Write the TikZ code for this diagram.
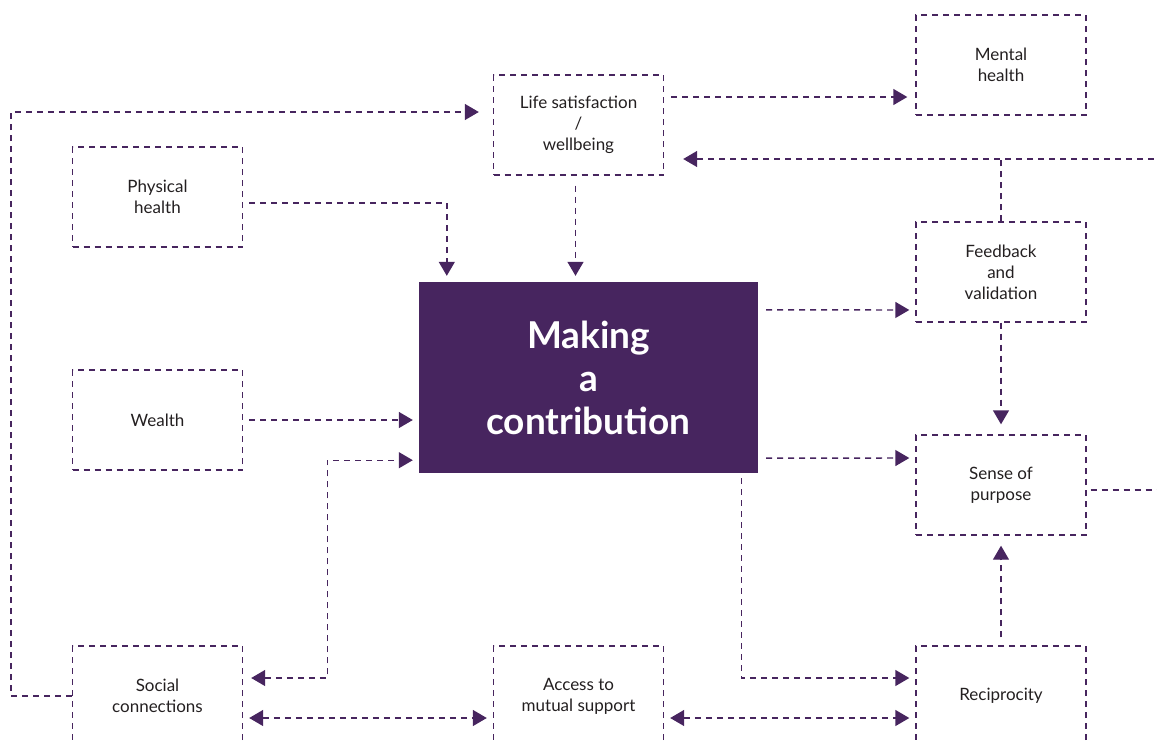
\documentclass[tikz,border=0pt]{standalone}
\usepackage{fontspec}
\setmainfont{Lato}
\usetikzlibrary{arrows.meta}
\definecolor{plum}{RGB}{71,37,95}
\definecolor{ink}{RGB}{35,31,32}

\begin{document}
\begin{tikzpicture}[x=1pt, y=-1pt, font=\fontsize{17}{21}\selectfont,
	box/.style={draw=plum, line width=1.4pt, dash pattern=on 6pt off 5pt,
		minimum width=170pt, minimum height=100pt, align=center, text=ink, inner sep=0pt},
	core/.style={fill=plum, minimum width=339pt, minimum height=191pt, align=center,
		text=white, inner sep=0pt, font=\bfseries\fontsize{37}{43}\selectfont},
	link/.style={draw=plum, line width=1.4pt, dash pattern=on 6pt off 5pt},
	tip/.style={-{Triangle[length=14pt,width=16pt]}},
	twotip/.style={{Triangle[length=14pt,width=16pt]}-{Triangle[length=14pt,width=16pt]}}]
	\useasboundingbox (0,0) rectangle (1157,742);
	\clip (0,0) rectangle (1157,742);
	%boxes
	\node[box] (mental) at (1001,65) {Mental\\health};
	\node[box] (life) at (578.5,125) {Life satisfaction\\/\\wellbeing};
	\node[box] (phys) at (157.5,197) {Physical\\health};
	\node[box] (feed) at (1001,272) {Feedback\\and\\validation};
	\node[core] (main) at (588.5,377.5) {Making\\a\\contribution};
	\node[box] (wealth) at (157.5,420) {Wealth};
	\node[box] (sense) at (1001,485) {Sense of\\purpose};
	\node[box] (social) at (157.5,696) {Social\\connections};
	\node[box] (access) at (578.5,696) {Access to\\mutual support};
	\node[box] (recip) at (1001,696) {Reciprocity};
	\coordinate (fbjoin) at (1001,159);
	%links top
	\draw[link,tip,shorten >=14pt] (social.west) -- ++(-61,0) |- ([yshift=13pt]life.west);
	\draw[link,tip,shorten <=7pt,shorten >=8pt] ([yshift=28pt]life.east) -- ([yshift=-32pt]mental.west);
	\draw[link] (feed.north) -- (fbjoin);
	\draw[link,tip,shorten <=4pt,shorten >=19pt] ([yshift=-5pt]sense.east) -- ++(90,0) |- (fbjoin) -- ([yshift=-34pt]life.east);
	\draw[link,tip,shorten <=10pt,shorten >=6pt] ([xshift=-3pt]life.south) -- ([xshift=-3pt]life.south |- main.north);
	\draw[link,tip,shorten <=6pt,shorten >=6pt] ([yshift=-6pt]phys.east) -| ([xshift=28pt]main.north west);
	%links middle
	\draw[link,tip,shorten <=6pt,shorten >=6pt] (wealth.east) -- (wealth.east -| main.west);
	\draw[link,twotip,shorten <=8pt,shorten >=6pt] ([yshift=18pt]social.east) -- ++(84,0) |- ([yshift=13pt]main.south west);
	\draw[link,tip,shorten <=8pt,shorten >=6pt] ([yshift=-28pt]main.north east) -- ([yshift=-38pt]feed.west);
	\draw[link,tip,shorten <=8pt,shorten >=6pt] ([yshift=15pt]main.south east) -- ([yshift=27pt]sense.west);
	\draw[link,tip,shorten >=10pt] (feed.south) -- (sense.north);
	\draw[link,tip,shorten <=8pt,shorten >=10pt] (recip.north) -- (sense.south);
	%links bottom
	\draw[link,tip,shorten <=5pt,shorten >=6pt] ([xshift=-17pt]main.south east) |- ([yshift=18pt]recip.west);
	\draw[link,twotip,shorten <=6pt,shorten >=6pt] ([yshift=-22pt]social.east) -- ([yshift=-22pt]access.west);
	\draw[link,twotip,shorten <=6pt,shorten >=6pt] ([yshift=-22pt]access.east) -- ([yshift=-22pt]recip.west);
\end{tikzpicture}
\end{document}
